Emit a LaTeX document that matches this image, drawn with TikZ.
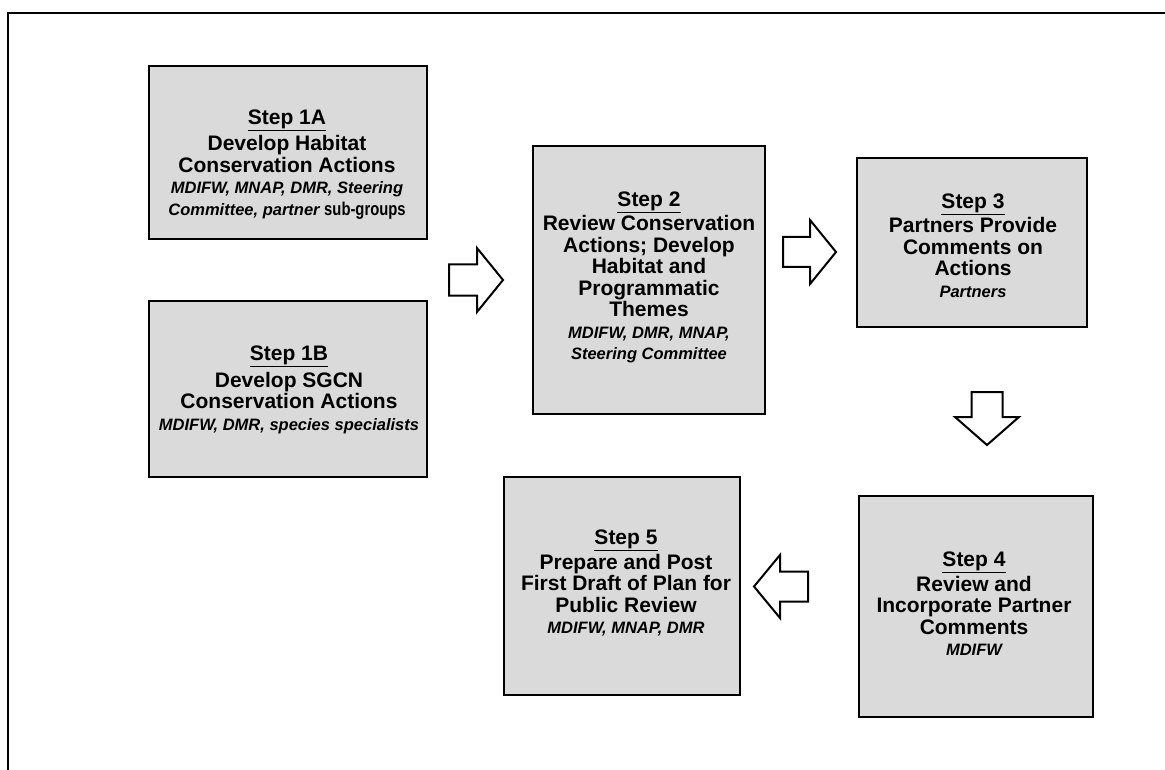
\documentclass[tikz,border=0pt]{standalone}
\usepackage{fontspec}
\setmainfont{Liberation Sans}
\usepackage{graphicx}
\definecolor{boxgray}{RGB}{218,218,218}
\newcommand{\bfline}{\fontsize{21}{21.5}\selectfont\bfseries\upshape}
\newcommand{\itline}{\fontsize{16.5}{19.5}\selectfont\bfseries\itshape}
\begin{document}
\begin{tikzpicture}[x=1pt,y=-1pt,
  stepbox/.style={draw=black, line width=2pt, fill=boxgray, inner sep=0pt},
  steptext/.style={align=center, inner sep=0pt, font=\bfline},
  blockarrow/.style={draw=black, line width=2pt, fill=white, line join=miter}]
\useasboundingbox (0,0) rectangle (1165,770);
\fill[white] (0,0) rectangle (1165,770);
\draw[line width=2.5pt] (1166,13) -- (8,13) -- (8,771);

% boxes
\node[stepbox, minimum width=278pt, minimum height=173pt] (s1a) at (288,152.5) {};
\node[stepbox, minimum width=278pt, minimum height=176pt] (s1b) at (288,389) {};
\node[stepbox, minimum width=232pt, minimum height=268pt] (s2) at (649,280) {};
\node[stepbox, minimum width=230pt, minimum height=169pt] (s3) at (972,242.5) {};
\node[stepbox, minimum width=234pt, minimum height=221pt] (s4) at (975.5,606.5) {};
\node[stepbox, minimum width=236pt, minimum height=218pt] (s5) at (622,586) {};

% texts
\node[steptext] (t1a) at (287,164.5) {\underline{Step 1A}\\[4pt]
  Develop Habitat\\ Conservation Actions\\
  \itline MDIFW, MNAP, DMR, Steering\\
  \itline Committee, partner {\fontsize{18.5}{19.5}\selectfont\upshape\scalebox{0.8}[1]{sub-groups}}};
\node[steptext] (t1b) at (289,390) {\underline{Step 1B}\\[4pt]
  Develop SGCN\\ Conservation Actions\\
  \itline MDIFW, DMR, species specialists};
\node[steptext] (t2) at (649,277.5) {\underline{Step 2}\\[2pt]
  Review Conservation\\ Actions; Develop\\ Habitat and\\ Programmatic\\ Themes\\
  \itline MDIFW, DMR, MNAP,\\ \itline Steering Committee};
\node[steptext] (t3) at (973,245.5) {\underline{Step 3}\\[2pt]
  Partners Provide\\ Comments on\\ Actions\\
  \itline Partners};
\node[steptext] (t4) at (974,604) {\underline{Step 4}\\[2pt]
  Review and\\ Incorporate Partner\\ Comments\\
  \itline MDIFW};
\node[steptext] (t5) at (626,583) {\underline{Step 5}\\[2pt]
  Prepare and Post\\ First Draft of Plan for\\ Public Review\\
  \itline MDIFW, MNAP, DMR};

% block arrows
\draw[blockarrow] (449,264.5) -- (477,264.5) -- (477,248) -- (503,280) -- (477,312) -- (477,295.5) -- (449,295.5) -- cycle;
\draw[blockarrow] (783,237) -- (810,237) -- (810,220) -- (836,252) -- (810,284) -- (810,267) -- (783,267) -- cycle;
\draw[blockarrow] (971.5,392) -- (1002.5,392) -- (1002.5,417) -- (1019,417) -- (987,445) -- (955,417) -- (971.5,417) -- cycle;
\draw[blockarrow] (808,571.5) -- (780,571.5) -- (780,555) -- (754,586.5) -- (780,618) -- (780,601.5) -- (808,601.5) -- cycle;
\end{tikzpicture}
\end{document}
